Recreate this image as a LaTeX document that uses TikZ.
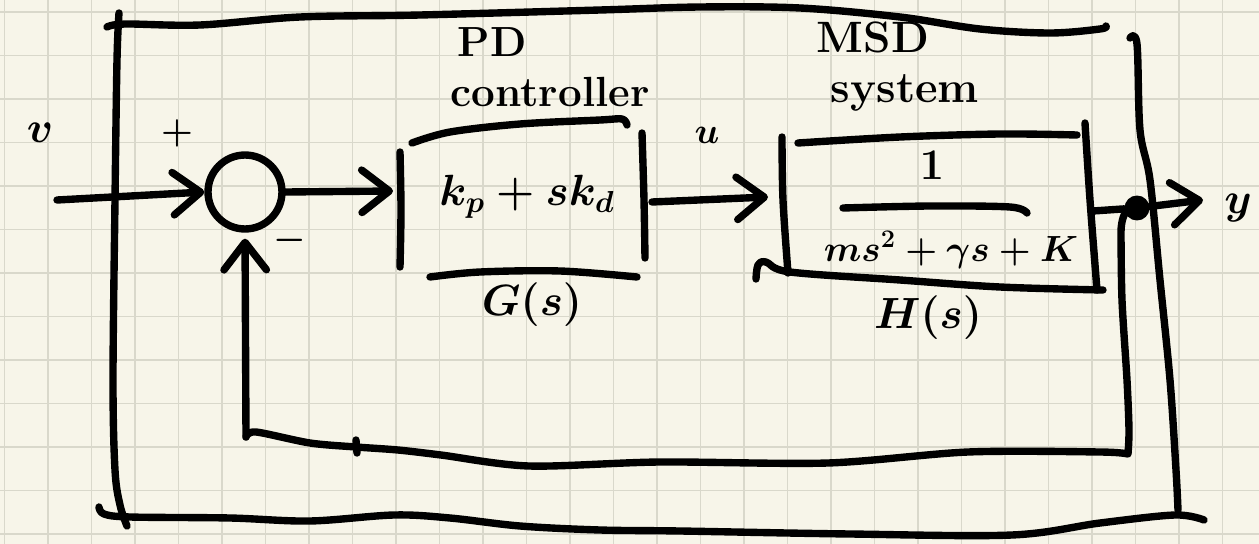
\documentclass[tikz,border=0pt]{standalone}
\usetikzlibrary{arrows.meta}
\definecolor{paper}{RGB}{247,245,233}
\definecolor{gridline}{RGB}{217,216,203}
\tikzset{
  ink/.style={line width=4.2pt, line cap=round, line join=round, draw=black},
  arr/.style={ink, -{Straight Barb[length=0.55cm, width=0.85cm, round]}},
  gridrule/.style={draw=gridline, line width=1.1pt},
  lbl/.style={inner sep=0pt, text=black},
  sz/.style={font=\fontsize{#1}{#1}\selectfont\bfseries\boldmath},
  pen/.style={ink, smooth, tension=0.55},
}
\begin{document}
\begin{tikzpicture}[x=0.02cm, y=-0.02cm]
\useasboundingbox (0,0) rectangle (1259,544);
% squared paper
\fill[paper] (0,0) rectangle (1259,544);
\foreach \i in {0,...,28} \draw[gridrule] ({4.5+43.5*\i},0) -- ({4.5+43.5*\i},544);
\foreach \j in {0,...,12} \draw[gridrule] (0,{12+43.5*\j}) -- (1259,{12+43.5*\j});

% outer frame
\draw[pen] plot coordinates {(107,27) (125,24) (200,25) (300,17) (420,15) (600,10) (700,7) (800,8) (900,17) (980,29) (1050,33) (1100,29) (1106,26)};
\draw[pen] plot coordinates {(119,13) (117,60) (115,200) (113,380) (115,470) (120,505) (127,526)};
\draw[pen] plot coordinates {(99,507) (104,514) (130,517) (230,518) (310,521) (394,515) (450,518) (520,526) (600,530) (680,531) (850,534) (1012,535) (1100,523) (1175,515) (1204,520)};
\draw[pen] plot coordinates {(1130,38) (1137,44) (1140,130) (1150,180) (1160,280) (1170,380) (1176,470) (1178,510)};

% summing junction
\node[ink, circle, minimum size=1.48cm, inner sep=0pt] (sum) at (245,192) {};
\coordinate (in) at (57,200);
\node[lbl, sz=36] (r) at (40,133) {$v$};
\node[lbl, sz=20] (plus) at (177,133) {$+$};
\node[lbl, sz=20] (minus) at (290,240) {$-$};

% PD controller block
\node[lbl, sz=24] (pdtitle) at (492,42) {PD};
\node[lbl, sz=24] (pdsub) at (550,92) {controller};
\node[lbl, sz=27] (G) at (527,197) {$k_p+sk_d$};
\node[lbl, sz=26] (Glabel) at (532,305) {$G(s)$};
\draw[pen] plot coordinates {(400,152) (401,210) (400,267)};
\draw[pen] plot coordinates {(412,143) (450,132) (520,124) (600,120) (622,119) (627,125)};
\draw[pen] plot coordinates {(642,133) (644,200) (645,258)};
\draw[pen] plot coordinates {(430,277) (480,272) (560,271) (637,277)};
\coordinate (Gin) at (393,191);
\coordinate (Gout) at (652,202);

% MSD system block
\node[lbl, sz=25] (msdtitle) at (873,37) {MSD};
\node[lbl, sz=25] (msdsub) at (905,93) {system};
\node[lbl, sz=23] (Hnum) at (932,165) {$1$};
\node[lbl, sz=22] (Hden) at (951,250) {$ms^2+\gamma s+K$};
\node[lbl, sz=26] (Hlabel) at (928,318) {$H(s)$};
\draw[pen] plot coordinates {(843,208) (930,206) (1010,207) (1027,213)};
\draw[pen] plot coordinates {(782,137) (783,200) (788,273)};
\draw[pen] plot coordinates {(756,279) (758,265) (766,262) (790,272) (900,280) (1000,287) (1103,290)};
\draw[pen] plot coordinates {(798,143) (900,137) (1000,134) (1077,135)};
\draw[pen] plot coordinates {(1085,123) (1090,200) (1097,290)};
\coordinate (Hin) at (768,197);
\coordinate (Hout) at (1093,211);

% output branch point
\node[circle, fill=black, minimum size=0.5cm, inner sep=0pt] (dot) at (1137,208) {};
\coordinate (yout) at (1203,200);
\node[lbl, sz=44] (y) at (1238,208) {$y$};
\node[lbl, sz=22] (u) at (707,135) {$u$};

% forward path
\draw[arr] (in) -- (sum.west);
\draw[arr] (sum.east) -- (Gin);
\draw[arr] (Gout) -- (Hin);
\draw[ink] (Hout) -- (dot);
\draw[arr] (dot) -- (yout);

% feedback path
\coordinate (fbA) at (246,437);
\draw[ink] (dot) .. controls (1124,214) and (1121,222) .. (1121,232)
  -- plot[smooth, tension=0.5] coordinates {(1121,232) (1122,300) (1127,380) (1129,430) (1128,454)}
  -- plot[smooth, tension=0.5] coordinates {(1128,454) (1100,452) (968,452) (828,463) (660,462) (529,466) (441,455) (398,450) (356,447) (310,443) (256,432) (246,437)};
\draw[ink] (356,440) -- (357,453);
\draw[arr, shorten >=0.12cm] (fbA) -- (sum.south);
\end{tikzpicture}
\end{document}
